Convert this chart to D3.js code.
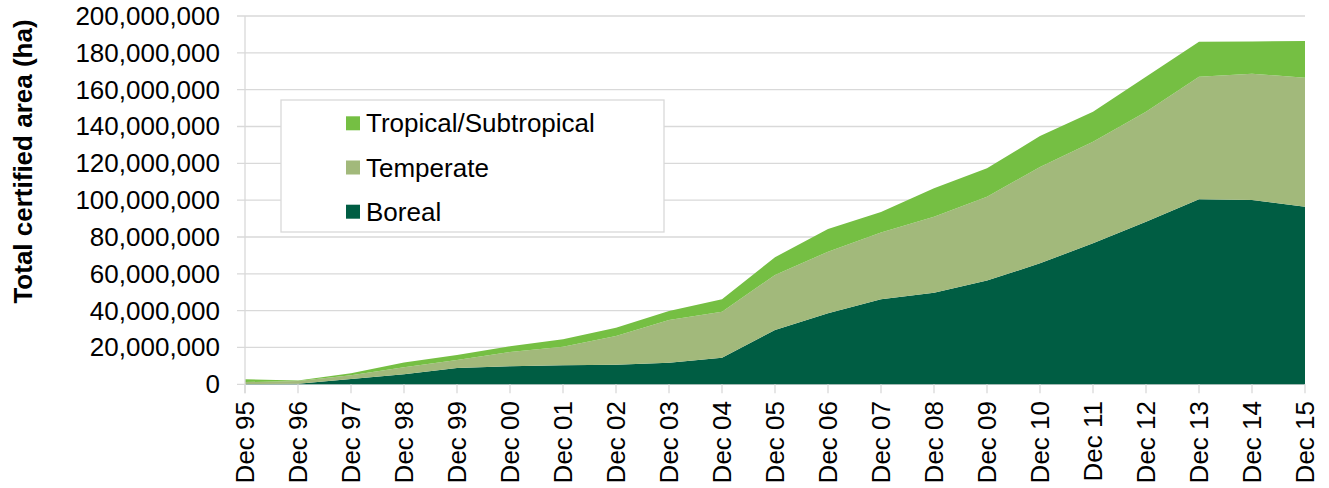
<!DOCTYPE html>
<html>
<head>
<meta charset="utf-8">
<script src="https://cdn.jsdelivr.net/npm/d3@7"></script>
<style>
  html, body { margin: 0; padding: 0; background: #ffffff; }
  svg { display: block; font-family: "Liberation Sans", Arial, sans-serif; }
</style>
</head>
<body>
<svg id="chart" width="1329" height="488"></svg>
<script>
const categories = ["Dec 95","Dec 96","Dec 97","Dec 98","Dec 99","Dec 00","Dec 01","Dec 02","Dec 03","Dec 04","Dec 05","Dec 06","Dec 07","Dec 08","Dec 09","Dec 10","Dec 11","Dec 12","Dec 13","Dec 14","Dec 15"];
const boreal = [0.1, 0.3, 2.9, 5.4, 8.9, 9.8, 10.3, 10.6, 11.7, 14.4, 29.5, 38.6, 46.2, 49.7, 56.3, 65.7, 76.6, 88.3, 100.5, 100.1, 96.4].map(v => v * 1e6);
const temperate = [1.1, 1.5, 2.0, 3.8, 4.3, 7.7, 10.1, 15.6, 23.2, 25.0, 29.9, 33.4, 36.3, 41.3, 45.6, 52.3, 55.1, 59.7, 66.5, 68.6, 70.1].map(v => v * 1e6);
const tropical = [1.5, 0.2, 1.1, 2.7, 2.7, 3.1, 4.0, 4.5, 4.9, 6.8, 9.6, 12.3, 11.1, 15.4, 15.4, 16.8, 16.3, 19.0, 19.0, 17.5, 19.9].map(v => v * 1e6);
const yTicks = [0, 20e6, 40e6, 60e6, 80e6, 100e6, 120e6, 140e6, 160e6, 180e6, 200e6];
const seriesNames = ["Boreal", "Temperate", "Tropical/Subtropical"];
const seriesColors = ["#005d43", "#a2b97b", "#75bf43"];
const yTitle = "Total certified area (ha)";

(function () {
const svg = d3.select("#chart");
const pLeft = 245, pRight = 1305, pTop = 16, pBottom = 384.3;

const table = categories.map((c, i) => ({
  cat: c, "Boreal": boreal[i], "Temperate": temperate[i], "Tropical/Subtropical": tropical[i]
}));

const x = d3.scalePoint().domain(categories).range([pLeft, pRight]);
const y = d3.scaleLinear().domain([0, 200e6]).range([pBottom, pTop]);

svg.append("g").selectAll("line").data(yTicks).join("line")
  .attr("x1", pLeft - 8).attr("x2", pRight)
  .attr("y1", d => y(d)).attr("y2", d => y(d))
  .attr("stroke", "#d9d9d9").attr("stroke-width", 1.3);

const fmt = d3.format(",");
svg.append("g").selectAll("text").data(yTicks).join("text")
  .attr("x", 220).attr("y", d => y(d))
  .attr("text-anchor", "end").attr("dominant-baseline", "central")
  .attr("font-size", 26).attr("fill", "#000")
  .text(d => fmt(d));

const stack = d3.stack().keys(seriesNames);
const layers = stack(table);
const area = d3.area()
  .x(d => x(d.data.cat))
  .y0(d => y(d[0]))
  .y1(d => y(d[1]));
svg.append("g").selectAll("path").data(layers).join("path")
  .attr("d", area)
  .attr("fill", (d, i) => seriesColors[i]);

svg.append("line").attr("x1", pLeft).attr("x2", pLeft).attr("y1", pTop).attr("y2", pBottom + 9)
  .attr("stroke", "#d9d9d9").attr("stroke-width", 1.3);

svg.append("g").selectAll("line").data(categories).join("line")
  .attr("x1", d => x(d)).attr("x2", d => x(d))
  .attr("y1", pBottom).attr("y2", pBottom + 9)
  .attr("stroke", "#d9d9d9").attr("stroke-width", 1.3);

svg.append("g").selectAll("text").data(categories).join("text")
  .attr("transform", d => `translate(${x(d)},${401}) rotate(-90)`)
  .attr("text-anchor", "end").attr("dominant-baseline", "central")
  .attr("font-size", 26).attr("fill", "#000")
  .text(d => d);

svg.append("text")
  .attr("transform", `translate(23,${161.5}) rotate(-90)`)
  .attr("text-anchor", "middle").attr("dominant-baseline", "central")
  .attr("font-size", 26).attr("font-weight", "bold").attr("fill", "#000")
  .text(yTitle);

const lg = svg.append("g");
lg.append("rect").attr("x", 281).attr("y", 100).attr("width", 383).attr("height", 132)
  .attr("fill", "#fff").attr("stroke", "#d9d9d9").attr("stroke-width", 1.3);
const legendOrder = [2, 1, 0];
legendOrder.forEach((si, k) => {
  const cy = 123.3 + k * 44.2;
  lg.append("rect").attr("x", 346).attr("y", cy - 7).attr("width", 14).attr("height", 14)
    .attr("fill", seriesColors[si]);
  lg.append("text").attr("x", 366).attr("y", cy)
    .attr("dominant-baseline", "central").attr("font-size", 26).attr("fill", "#000")
    .text(seriesNames[si]);
});
})();
</script>
</body>
</html>
